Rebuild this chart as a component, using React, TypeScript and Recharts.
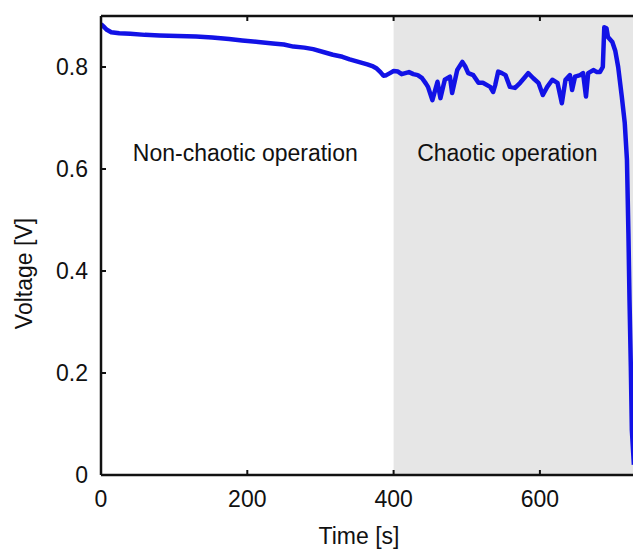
import { LineChart, Line, XAxis, YAxis, ReferenceArea, Label } from "recharts";

// voltage trace (time in s, voltage in V)
const timeS = [
  0, 3, 8, 14, 25, 40, 60, 80, 105, 130, 152, 175, 193, 215, 235, 250, 263, 278, 290, 305,
  317, 330, 340, 352, 364, 372, 377, 382, 386, 390, 395, 400, 406, 411, 416, 421, 427, 433,
  439, 444, 447, 453, 460, 464, 470, 477, 480, 487, 494, 498, 502, 509, 516, 522, 532, 536,
  539, 543, 548, 553, 559, 566, 573, 580, 584, 591, 598, 604, 610, 617, 624, 630, 635, 641,
  644, 648, 655, 659, 663, 666, 673, 678, 682, 686, 688, 691, 693, 699, 703, 707, 712, 716,
  719, 721, 722.5, 724.3, 725.7, 728.5,
];
const voltageV = [
  0.884, 0.88, 0.873, 0.868, 0.866, 0.865, 0.863, 0.862, 0.861, 0.86, 0.858, 0.855, 0.852,
  0.849, 0.846, 0.844, 0.84, 0.838, 0.835, 0.829, 0.824, 0.82, 0.815, 0.81, 0.805, 0.801,
  0.797, 0.79, 0.783, 0.784, 0.788, 0.792, 0.791, 0.786, 0.788, 0.79, 0.786, 0.784, 0.778,
  0.768, 0.761, 0.735, 0.771, 0.739, 0.775, 0.781, 0.749, 0.794, 0.81, 0.801, 0.788, 0.784,
  0.769, 0.769, 0.761, 0.751, 0.765, 0.791, 0.788, 0.784, 0.761, 0.759, 0.769, 0.781, 0.788,
  0.778, 0.769, 0.745, 0.761, 0.775, 0.769, 0.729, 0.775, 0.784, 0.755, 0.781, 0.784, 0.788,
  0.742, 0.788, 0.794, 0.79, 0.79, 0.8, 0.878, 0.876, 0.859, 0.849, 0.832, 0.8, 0.741, 0.69,
  0.618, 0.474, 0.343, 0.212, 0.088, 0.02,
];

const xTicks = [0, 200, 400, 600];
const yTicks = [0, 0.2, 0.4, 0.6, 0.8];
const xMax = 730;
const yMax = 0.9;
const chaosStart = 400;

const data = timeS.map((t, i) => ({ t, v: voltageV[i] }));

const font = "'Liberation Sans', Arial, sans-serif";
const ink = "#111";
const textStyle = { fontFamily: font, fontSize: 23, fill: ink };
const axisLine = { stroke: "#111", strokeWidth: 2.5 };
const tickLine = { stroke: "#111", strokeWidth: 2 };
const noLabel = () => "";

const areaText = (text: string, shift: number) => (p: any) => {
  const vb = p.viewBox;
  return (
    <text x={vb.x + vb.width / 2 + shift} y={vb.y + 145} textAnchor="middle" style={textStyle}>
      {text}
    </text>
  );
};

export default function App() {
  return (
    <div style={{ position: "absolute", left: 0, top: 0, width: 633, height: 549, overflow: "hidden", background: "#fff" }}>
      <LineChart width={650} height={549} data={data} margin={{ top: 15, right: 14, left: 0, bottom: 0 }}>
        <ReferenceArea
          xAxisId="b"
          yAxisId="l"
          x1={chaosStart}
          x2={xMax}
          y1={0}
          y2={yMax}
          fill="#e6e6e6"
          fillOpacity={1}
          stroke="none"
          label={areaText("Chaotic operation", -7)}
        />
        <ReferenceArea
          xAxisId="b"
          yAxisId="l"
          x1={0}
          x2={chaosStart}
          y1={0}
          y2={yMax}
          fill="none"
          stroke="none"
          label={areaText("Non-chaotic operation", -2)}
        />
        <XAxis
          xAxisId="b"
          dataKey="t"
          type="number"
          domain={[0, xMax]}
          ticks={xTicks}
          allowDataOverflow
          height={74}
          tickSize={-5}
          tickMargin={21}
          axisLine={axisLine}
          tickLine={tickLine}
          tick={textStyle}
        >
          <Label
            content={(p: any) => {
              const vb = p.viewBox;
              return (
                <text x={vb.x + vb.width / 2 - 9} y={vb.y + vb.height - 5} textAnchor="middle" style={textStyle}>
                  Time [s]
                </text>
              );
            }}
          />
        </XAxis>
        <XAxis
          xAxisId="top"
          orientation="top"
          dataKey="t"
          type="number"
          domain={[0, xMax]}
          ticks={xTicks}
          allowDataOverflow
          height={1}
          tickSize={-5}
          tickFormatter={noLabel}
          axisLine={axisLine}
          tickLine={tickLine}
        />
        <YAxis
          yAxisId="l"
          type="number"
          domain={[0, yMax]}
          ticks={yTicks}
          width={101}
          tickSize={-5}
          tickMargin={18}
          tickFormatter={(v: number) => (v === 0 ? "0" : v.toFixed(1))}
          axisLine={axisLine}
          tickLine={tickLine}
          tick={textStyle}
        >
          <Label
            content={(p: any) => {
              const vb = p.viewBox;
              const x = vb.x + 32;
              const y = vb.y + vb.height / 2 + 28;
              return (
                <text x={x} y={y} transform={`rotate(-90, ${x}, ${y})`} textAnchor="middle" style={textStyle}>
                  Voltage [V]
                </text>
              );
            }}
          />
        </YAxis>
        <YAxis
          yAxisId="r"
          orientation="right"
          type="number"
          domain={[0, yMax]}
          ticks={yTicks}
          width={1}
          tickSize={-5}
          tickFormatter={noLabel}
          axisLine={axisLine}
          tickLine={tickLine}
        />
        <Line
          xAxisId="b"
          yAxisId="l"
          dataKey="v"
          type="linear"
          stroke="#1212e6"
          strokeWidth={4.5}
          strokeLinejoin="round"
          dot={false}
          activeDot={false}
          isAnimationActive={false}
        />
      </LineChart>
    </div>
  );
}
